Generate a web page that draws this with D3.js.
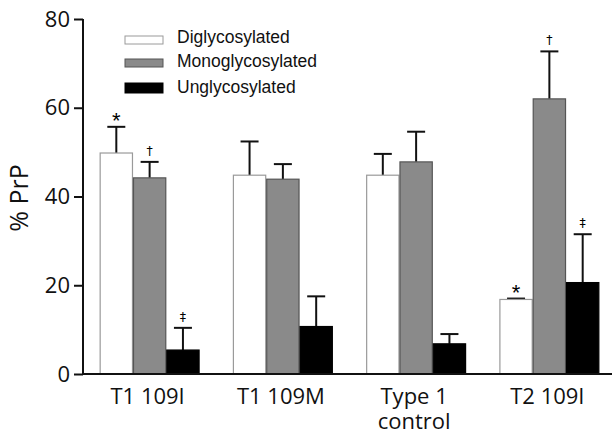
<!DOCTYPE html>
<html lang="en">
<head>
  <meta charset="UTF-8">
  <title>PrP glycoform distribution</title>
  <script src="https://d3js.org/d3.v7.min.js"></script>
  <style>
    body { margin: 0; background: #fff; }
    svg { display: block; }
    .tick text { font-family: "Open Sans", sans-serif; font-size: 22px; fill: #111; }
  </style>
</head>
<body>
<svg width="612" height="430"></svg>
<script>
const groups = ["T1 109I", "T1 109M", "Type 1|control", "T2 109I"];
const series = ["Diglycosylated", "Monoglycosylated", "Unglycosylated"];
const diglycosylated = [49.8, 44.8, 44.8, 16.8];
const monoglycosylated = [44.2, 43.9, 47.8, 62.0];
const unglycosylated = [5.4, 10.7, 6.8, 20.6];
const diglycosylatedErr = [5.9, 7.6, 4.8, 0.2];
const monoglycosylatedErr = [3.6, 3.4, 6.8, 10.7];
const unglycosylatedErr = [5.0, 6.8, 2.2, 10.9];
const yTicks = [0, 20, 40, 60, 80];
// significance marks: [group index, series index, symbol]
const marks = [[0, 0, "*"], [0, 1, "\u2020"], [0, 2, "\u2021"], [3, 0, "*"], [3, 1, "\u2020"], [3, 2, "\u2021"]];

const values = [diglycosylated, monoglycosylated, unglycosylated];
const errors = [diglycosylatedErr, monoglycosylatedErr, unglycosylatedErr];
const fills = ["#ffffff", "#8a8a8a", "#000000"];
const strokes = ["#9a9a9a", "#555555", "#000000"];

const svg = d3.select("svg");
const margin = {left: 83, top: 19, bottom: 56};
const plotBottom = 430 - margin.bottom;

const x0 = d3.scaleBand().domain(groups).range([margin.left, 616]).paddingInner(0.25).paddingOuter(0.125);
const x1 = d3.scaleBand().domain(series).range([0, x0.bandwidth()]);
const y = d3.scaleLinear().domain([0, 80]).range([plotBottom, margin.top]);

const rows = [];
groups.forEach((g, gi) => series.forEach((s, si) => {
  rows.push({g, gi, s, si, v: values[si][gi], e: errors[si][gi]});
}));

// error bars first so bar outlines sit on top
const eb = svg.append("g").attr("stroke", "#111").attr("stroke-width", 2);
rows.forEach(d => {
  const cx = x0(d.g) + x1(d.s) + x1.bandwidth() / 2;
  eb.append("line").attr("x1", cx).attr("x2", cx).attr("y1", y(d.v)).attr("y2", y(d.v + d.e));
  eb.append("line").attr("x1", cx - 9).attr("x2", cx + 9).attr("y1", y(d.v + d.e)).attr("y2", y(d.v + d.e));
});

svg.append("g").selectAll("rect")
  .data(rows)
  .join("rect")
  .attr("x", d => x0(d.g) + x1(d.s) + 0.5)
  .attr("y", d => y(d.v))
  .attr("width", x1.bandwidth() - 1)
  .attr("height", d => y(0) - y(d.v))
  .attr("fill", d => fills[d.si])
  .attr("stroke", d => strokes[d.si])
  .attr("stroke-width", 1.2);

// significance symbols
marks.forEach(([gi, si, sym]) => {
  const d = rows.find(r => r.gi === gi && r.si === si);
  const cx = x0(d.g) + x1(d.s) + x1.bandwidth() / 2;
  const star = sym === "*";
  svg.append("text")
    .attr("x", cx)
    .attr("y", y(d.v + d.e) - (star ? -1 : 7))
    .attr("text-anchor", "middle")
    .attr("font-family", star ? "Liberation Sans, sans-serif" : "DejaVu Sans, sans-serif")
    .attr("font-size", star ? 22 : 12.5)
    .attr("fill", "#000")
    .text(sym);
});

// y axis
const yAxis = svg.append("g")
  .attr("transform", `translate(${margin.left},0)`)
  .call(d3.axisLeft(y).tickValues(yTicks).tickSize(9).tickSizeOuter(0).tickPadding(4));
yAxis.selectAll("path, line").attr("stroke", "#111").attr("stroke-width", 2);
yAxis.select(".domain").attr("d", `M0,${y(80)}V${y(0) + 1}`);

// x axis baseline
svg.append("line")
  .attr("x1", margin.left - 1).attr("x2", 612)
  .attr("y1", y(0)).attr("y2", y(0))
  .attr("stroke", "#111").attr("stroke-width", 2);

// category labels
groups.forEach(g => {
  const cx = x0(g) + x0.bandwidth() / 2 - 2;
  const t = svg.append("text")
    .attr("y", 404)
    .attr("text-anchor", "middle")
    .attr("font-family", "Open Sans, sans-serif")
    .attr("font-size", 22)
    .attr("fill", "#111");
  g.split("|").forEach((part, i) => {
    t.append("tspan").attr("x", cx).attr("y", 404 + i * 25).text(part);
  });
});

// y label
svg.append("text")
  .attr("transform", "translate(28,198) rotate(-90)")
  .attr("text-anchor", "middle")
  .attr("font-family", "Open Sans, sans-serif")
  .attr("font-size", 25)
  .attr("fill", "#111")
  .text("% PrP");

// legend
const legend = svg.append("g");
series.forEach((s, i) => {
  const ly = [36, 59, 83][i];
  legend.append("rect")
    .attr("x", 125).attr("y", ly)
    .attr("width", 38).attr("height", i === 2 ? 10 : 8)
    .attr("fill", fills[i]).attr("stroke", strokes[i]).attr("stroke-width", 1);
  legend.append("text")
    .attr("x", 177).attr("y", [43, 67, 93][i])
    .attr("font-family", "Liberation Sans, Arial, sans-serif")
    .attr("font-size", 17.5)
    .attr("fill", "#111")
    .text(s);
});
</script>
</body>
</html>
